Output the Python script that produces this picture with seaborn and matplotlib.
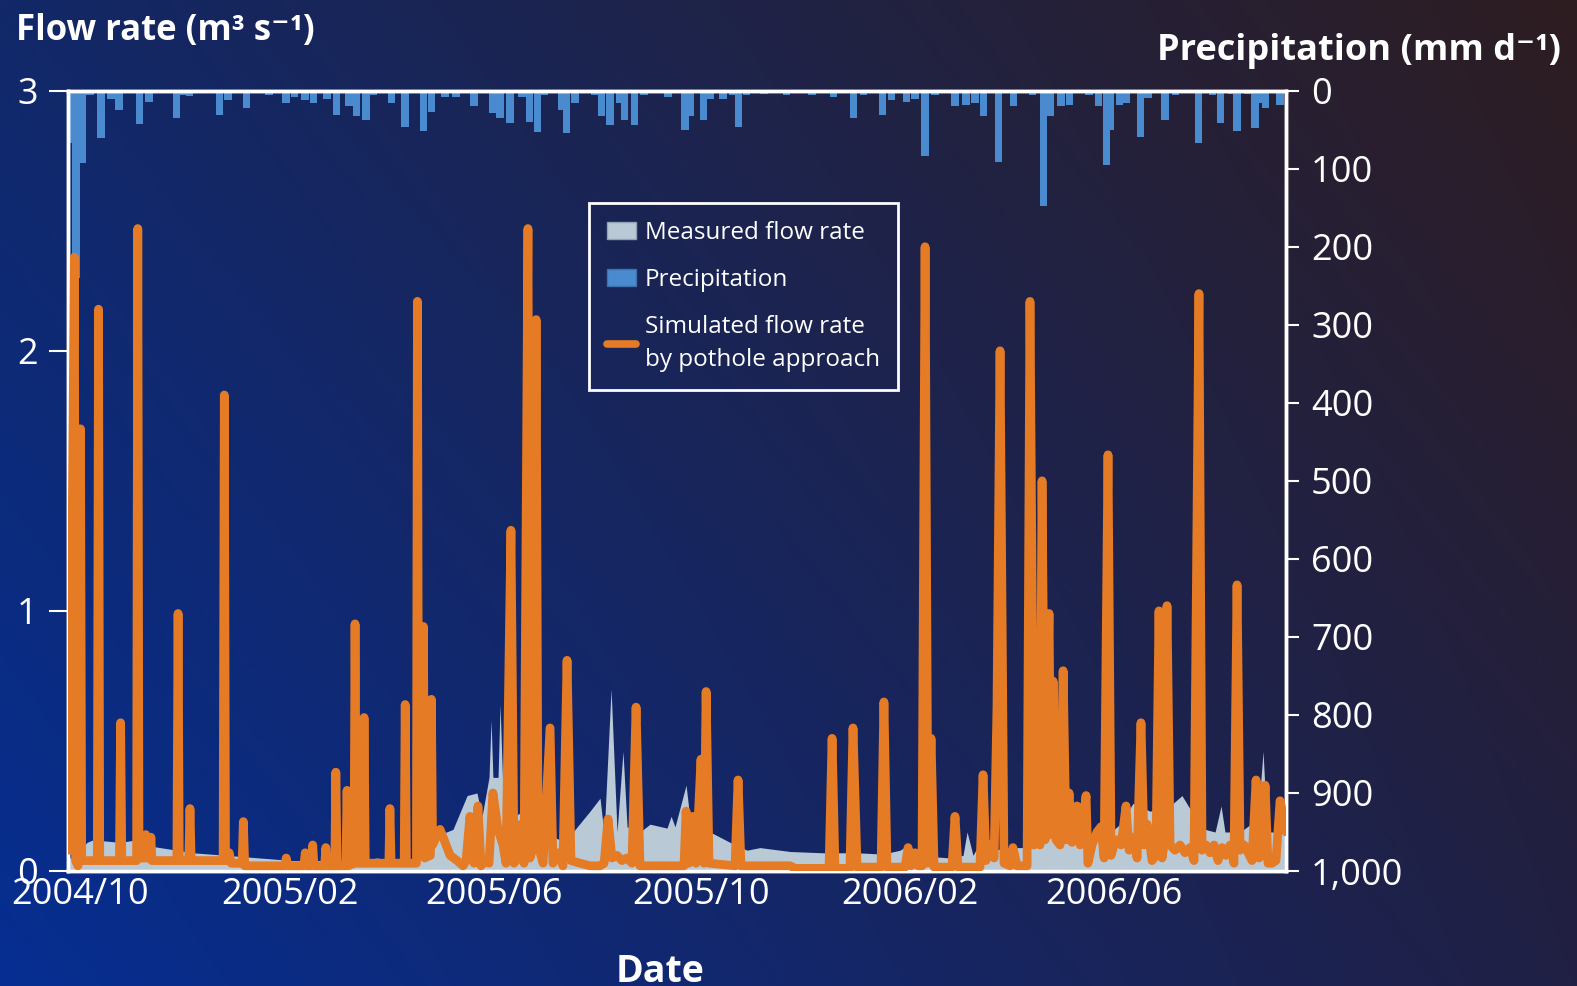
import numpy as np
import pandas as pd
import matplotlib
matplotlib.use("Agg")
import matplotlib.pyplot as plt
import matplotlib.dates as mdates
from matplotlib.patches import Patch
from matplotlib.lines import Line2D
import seaborn as sns

# ---------------- data (days counted from 2004-10-01) ----------------
START = pd.Timestamp("2004-10-01")
x_start_day, x_end_day = -7.35, 709.1

sim_day = [
    -7.3, -6.4, -3.6, -2.9, -1.5, -0.6, 0.0, 0.7, 9.9, 10.6,
    11.3, 22.9, 23.6, 24.3, 33.0, 33.7, 34.4, 37.8, 38.4, 39.0,
    40.8, 41.4, 42.0, 56.7, 57.4, 58.1, 63.7, 64.4, 65.1, 83.9,
    84.6, 85.3, 87.5, 88.6, 95.1, 95.8, 96.6, 120.3, 121.0, 121.8,
    131.4, 132.2, 133.0, 136.0, 136.6, 137.3, 143.6, 144.3, 145.0, 149.6,
    150.2, 150.9, 156.1, 156.8, 157.5, 160.9, 161.5, 162.2, 166.2, 166.8,
    167.5, 181.4, 182.0, 182.7, 190.4, 191.0, 191.7, 197.6, 198.2, 198.9,
    201.1, 201.7, 202.4, 205.8, 206.4, 207.1, 211.5, 217.4, 221.5, 225.0,
    226.8, 229.1, 231.5, 233.8, 235.6, 237.9, 240.3, 242.6, 245.6, 248.5,
    250.3, 253.2, 255.0, 257.4, 259.1, 260.9, 263.2, 264.4, 266.8, 268.0,
    269.1, 272.1, 276.2, 277.9, 280.9, 283.8, 286.2, 288.5, 293.8, 299.7,
    305.6, 308.0, 310.3, 312.6, 315.6, 318.5, 321.5, 324.4, 326.8, 329.1,
    355.0, 356.2, 357.9, 360.3, 362.1, 365.0, 366.8, 368.0, 369.7, 385.0,
    386.8, 388.5, 417.4, 420.3, 440.3, 442.1, 443.8, 452.6, 454.4, 456.8,
    470.9, 472.6, 474.4, 485.0, 486.8, 488.5, 490.9, 492.6, 495.0, 496.8,
    498.5, 500.3, 502.1, 512.6, 514.4, 516.2, 529.1, 530.9, 532.6, 535.0,
    537.4, 539.1, 540.9, 543.2, 546.8, 548.5, 550.9, 556.8, 558.5, 560.9,
    562.6, 564.4, 565.6, 567.4, 569.7, 570.9, 572.1, 573.8, 576.2, 578.0,
    579.7, 581.5, 583.2, 586.2, 588.0, 591.5, 592.6, 595.0, 597.9, 600.3,
    602.1, 604.4, 606.2, 608.0, 609.7, 612.1, 615.0, 616.8, 619.1, 621.5,
    623.8, 625.6, 627.4, 629.1, 630.3, 632.6, 634.4, 636.2, 637.4, 639.1,
    640.9, 643.8, 646.8, 649.7, 652.6, 655.0, 657.9, 659.7, 662.1, 664.4,
    666.8, 669.1, 671.5, 673.8, 676.2, 678.5, 680.3, 682.1, 684.4, 686.8,
    689.1, 691.5, 693.2, 695.0, 696.8, 698.5, 700.9, 703.2, 705.6, 708.0,
    709.1,
]
sim_flow = [
    0.83, 0.08, 2.36, 0.04, 0.02, 0.05, 1.70, 0.04, 0.04, 2.16,
    0.04, 0.04, 0.57, 0.04, 0.04, 2.47, 0.05, 0.05, 0.14, 0.05,
    0.05, 0.13, 0.04, 0.04, 0.99, 0.04, 0.04, 0.24, 0.04, 0.04,
    1.83, 0.04, 0.07, 0.03, 0.03, 0.19, 0.02, 0.02, 0.05, 0.02,
    0.02, 0.07, 0.02, 0.02, 0.10, 0.02, 0.02, 0.09, 0.02, 0.02,
    0.38, 0.02, 0.02, 0.31, 0.02, 0.03, 0.95, 0.03, 0.03, 0.59,
    0.03, 0.03, 0.24, 0.03, 0.03, 0.64, 0.03, 0.03, 2.19, 0.08,
    0.08, 0.94, 0.05, 0.06, 0.66, 0.10, 0.16, 0.06, 0.04, 0.02,
    0.04, 0.21, 0.03, 0.25, 0.02, 0.04, 0.03, 0.30, 0.16, 0.10,
    0.03, 1.31, 0.03, 0.05, 0.18, 0.03, 2.47, 0.05, 0.10, 2.12,
    0.10, 0.03, 0.55, 0.03, 0.07, 0.02, 0.81, 0.04, 0.03, 0.02,
    0.02, 0.03, 0.20, 0.05, 0.06, 0.04, 0.05, 0.03, 0.63, 0.02,
    0.02, 0.23, 0.03, 0.21, 0.03, 0.43, 0.03, 0.69, 0.03, 0.02,
    0.35, 0.02, 0.02, 0.01, 0.01, 0.51, 0.01, 0.01, 0.55, 0.015,
    0.015, 0.65, 0.015, 0.015, 0.09, 0.02, 0.07, 0.02, 0.02, 2.40,
    0.03, 0.51, 0.015, 0.015, 0.21, 0.015, 0.015, 0.37, 0.04, 0.10,
    0.05, 0.63, 2.00, 0.03, 0.02, 0.09, 0.02, 0.02, 2.19, 0.10,
    0.12, 0.10, 1.50, 0.12, 0.99, 0.14, 0.73, 0.12, 0.10, 0.77,
    0.12, 0.30, 0.11, 0.25, 0.10, 0.29, 0.03, 0.10, 0.15, 0.17,
    0.05, 1.60, 0.06, 0.10, 0.12, 0.10, 0.25, 0.08, 0.13, 0.05,
    0.57, 0.10, 0.18, 0.10, 0.04, 0.06, 1.00, 0.05, 0.10, 1.02,
    0.10, 0.08, 0.10, 0.07, 0.09, 0.04, 2.22, 0.08, 0.10, 0.07,
    0.10, 0.04, 0.09, 0.06, 0.10, 0.03, 1.10, 0.08, 0.10, 0.07,
    0.04, 0.35, 0.05, 0.06, 0.33, 0.03, 0.03, 0.04, 0.27, 0.20,
    0.15,
]

meas_day = [
    -7.35, -4.4, 3.8, 7.4, 23.2, 33.2, 35.0, 36.8, 46.8, 66.2,
    86.2, 105.6, 125.0, 145.0, 164.4, 174.4, 183.8, 195.6, 201.5, 203.8,
    211.5, 219.1, 227.4, 233.2, 236.2, 240.3, 241.5, 242.6, 245.6, 246.8,
    248.5, 252.6, 260.3, 270.3, 282.1, 289.7, 299.7, 305.6, 308.0, 312.1,
    315.6, 319.1, 321.5, 329.1, 335.0, 345.0, 347.4, 349.7, 356.2, 358.5,
    370.3, 382.1, 392.1, 399.7, 417.4, 436.8, 456.8, 472.1, 482.1, 486.8,
    492.1, 511.5, 519.1, 521.5, 525.0, 527.4, 535.0, 550.9, 560.3, 564.4,
    567.9, 571.5, 582.1, 593.8, 602.6, 611.5, 619.1, 629.1, 640.9, 647.9,
    654.4, 661.5, 667.4, 670.9, 673.2, 682.1, 692.6, 695.6, 698.0, 709.1,
]
meas_flow = [
    0.05, 0.05, 0.11, 0.12, 0.11, 0.12, 0.22, 0.10, 0.09, 0.07,
    0.06, 0.05, 0.04, 0.04, 0.04, 0.05, 0.04, 0.04, 0.11, 0.09,
    0.14, 0.16, 0.29, 0.30, 0.21, 0.36, 0.58, 0.36, 0.36, 0.64,
    0.30, 0.20, 0.23, 0.15, 0.12, 0.15, 0.23, 0.28, 0.14, 0.70,
    0.15, 0.46, 0.17, 0.15, 0.18, 0.165, 0.21, 0.17, 0.33, 0.20,
    0.15, 0.11, 0.08, 0.09, 0.075, 0.07, 0.07, 0.065, 0.08, 0.10,
    0.06, 0.05, 0.06, 0.15, 0.06, 0.09, 0.08, 0.09, 0.09, 0.20,
    0.28, 0.20, 0.17, 0.14, 0.13, 0.18, 0.26, 0.23, 0.25, 0.29,
    0.22, 0.16, 0.15, 0.25, 0.15, 0.15, 0.20, 0.46, 0.15, 0.15,
]

precip_day = [
    -5.6, -2.6, 1.2, 5.6, 12.0, 18.0, 22.6, 34.7, 40.3, 56.5,
    60.3, 64.0, 72.0, 81.8, 86.8, 97.6, 111.0, 121.0, 126.0, 132.0,
    137.0, 145.0, 150.6, 158.0, 162.4, 168.0, 172.0, 183.0, 191.0, 201.8,
    206.5, 214.4, 221.0, 231.5, 242.4, 246.8, 252.6, 259.7, 264.0, 268.8,
    273.0, 283.0, 286.0, 291.0, 302.6, 306.5, 311.5, 317.0, 320.0, 326.0,
    331.5, 345.6, 355.6, 358.8, 366.5, 370.3, 378.0, 383.5, 387.0, 391.8,
    402.0, 415.3, 430.3, 443.0, 454.7, 460.6, 471.8, 477.0, 485.9, 490.9,
    496.8, 502.6, 514.4, 521.0, 526.2, 531.2, 540.0, 548.8, 560.0, 566.5,
    570.3, 576.8, 581.8, 593.2, 598.8, 603.5, 605.6, 611.2, 615.0, 623.5,
    628.0, 638.0, 644.0, 657.6, 666.0, 670.6, 677.0, 680.3, 686.5, 690.9,
    694.0, 697.0, 705.6,
]
precip_mm = [
    67, 240, 93, 5, 61, 10, 25, 43, 14, 35,
    5, 7, 3, 31, 12, 22, 5, 16, 8, 12,
    16, 10, 31, 20, 33, 37, 6, 16, 46, 52,
    27, 8, 8, 20, 29, 35, 42, 8, 40, 53,
    5, 25, 54, 16, 5, 33, 44, 16, 38, 44,
    5, 8, 50, 33, 38, 10, 10, 5, 46, 5,
    4, 5, 5, 8, 35, 5, 31, 12, 14, 10,
    84, 5, 20, 18, 16, 33, 91, 20, 5, 148,
    33, 20, 18, 5, 20, 95, 50, 18, 16, 59,
    9, 37, 5, 67, 6, 42, 4, 52, 4, 48,
    16, 22, 18,
]

flow_ticks = [0, 1, 2, 3]
precip_ticks = [0, 100, 200, 300, 400, 500, 600, 700, 800, 900, 1000]
date_ticks = ["2004-10-01", "2005-02-01", "2005-06-01",
              "2005-10-01", "2006-02-01", "2006-06-01"]

legend_labels = ["Measured flow rate", "Precipitation",
                 "Simulated flow rate\nby pothole approach"]


def to_date(days):
    return START + pd.to_timedelta(np.asarray(days, dtype=float), unit="D")


sim_df = pd.DataFrame({"date": to_date(sim_day), "flow": sim_flow})
meas_df = pd.DataFrame({"date": to_date(meas_day), "flow": meas_flow})
precip_df = pd.DataFrame({"date": to_date(precip_day), "mm": precip_mm})

# ---------------- style ----------------
sns.set_theme(style="ticks")
plt.rcParams["font.family"] = ["Open Sans", "DejaVu Sans"]
plt.rcParams["axes.unicode_minus"] = False

W, H = 1577, 986
fig = plt.figure(figsize=(W / 100, H / 100), dpi=100)

# background gradient
bg = fig.add_axes([0, 0, 1, 1], zorder=-10)
TL = np.array([18, 40, 104]) / 255
TR = np.array([46, 29, 33]) / 255
BL = np.array([6, 46, 146]) / 255
BR = np.array([32, 32, 68]) / 255
u = np.linspace(0, 1, 400)[None, :, None]
v = np.linspace(0, 1, 250)[:, None, None]
img = (1 - v) * ((1 - u) * TL + u * TR) + v * ((1 - u) * BL + u * BR)
bg.imshow(img, aspect="auto", extent=[0, 1, 0, 1], origin="upper")
bg.axis("off")

L, R, T, B = 68, 1286, 90.7, 871
ax = fig.add_axes([L / W, 1 - B / H, (R - L) / W, (B - T) / H])
ax2 = ax.twinx()
ax.set_zorder(ax2.get_zorder() + 1)
ax.patch.set_visible(False)
ax2.patch.set_visible(False)

ORANGE = "#e57b25"
BLUE = "#4a8bd0"
GREY = "#bac9d6"

# precipitation bars (inverted right axis)
ax2.bar(precip_df["date"], precip_df["mm"], width=4.4, color=BLUE,
        linewidth=0, align="center")
ax2.set_ylim(1000, 0)

# measured flow area
ax.fill_between(meas_df["date"], 0, meas_df["flow"], color=GREY,
                linewidth=0, zorder=1)

# simulated flow line
sns.lineplot(data=sim_df, x="date", y="flow", ax=ax, color=ORANGE,
             linewidth=6.3, sort=False, estimator=None, legend=False,
             solid_joinstyle="round", solid_capstyle="round", zorder=3)

ax.set_xlim(to_date([x_start_day])[0], to_date([x_end_day])[0])
ax.set_ylim(0, 3)
ax.set_xlabel("")
ax.set_ylabel("")
ax.grid(False)
ax2.grid(False)

for a in (ax, ax2):
    for s in a.spines.values():
        s.set_visible(True)
        s.set_color("white")
        s.set_linewidth(2.5)

ax.set_yticks(flow_ticks)
ax.set_yticklabels([str(t) for t in flow_ticks])
ax.tick_params(axis="y", colors="white", length=14, width=1.5,
               direction="out", pad=8, labelsize=26)
ax.set_xticks(pd.to_datetime(date_ticks))
ax.xaxis.set_major_formatter(mdates.DateFormatter("%Y/%m"))
ax.tick_params(axis="x", colors="white", length=0, pad=4, labelsize=26)

ax2.set_yticks(precip_ticks)
ax2.set_yticklabels([f"{t:,}" for t in precip_ticks])
ax2.tick_params(axis="y", colors="white", length=9, width=1.5,
                direction="out", pad=9, labelsize=26)
ax2.set_ylabel("")

# titles
fig.text(16 / W, 1 - 31 / H, "Flow rate (m³ s⁻¹)", ha="left", va="center",
         fontsize=25, fontweight="bold", color="white")
fig.text(1561 / W, 1 - 51 / H, "Precipitation (mm d⁻¹)", ha="right",
         va="center", fontsize=26, fontweight="bold", color="white")
fig.text(660 / W, 1 - 953 / H, "Date", ha="center", va="top",
         fontsize=27, fontweight="bold", color="white")

# legend
handles = [Patch(facecolor=GREY, edgecolor="#8fa3b6", linewidth=1),
           Patch(facecolor=BLUE, edgecolor="#3c70aa", linewidth=1),
           Line2D([0], [0], color=ORANGE, linewidth=5.5)]
leg = fig.legend(handles, legend_labels, loc="upper left",
                 bbox_to_anchor=(589 / W, 1 - 203 / H), borderaxespad=0,
                 frameon=True, fancybox=False, facecolor="none",
                 edgecolor="white", framealpha=1, fontsize=17.5,
                 labelcolor="white", borderpad=0.75, labelspacing=0.95,
                 handlelength=1.2, handleheight=0.7, handletextpad=0.35)
leg.get_frame().set_linewidth(2)
for t in leg.get_texts():
    t.set_linespacing(1.45)

fig.savefig("out.png", dpi=100)
